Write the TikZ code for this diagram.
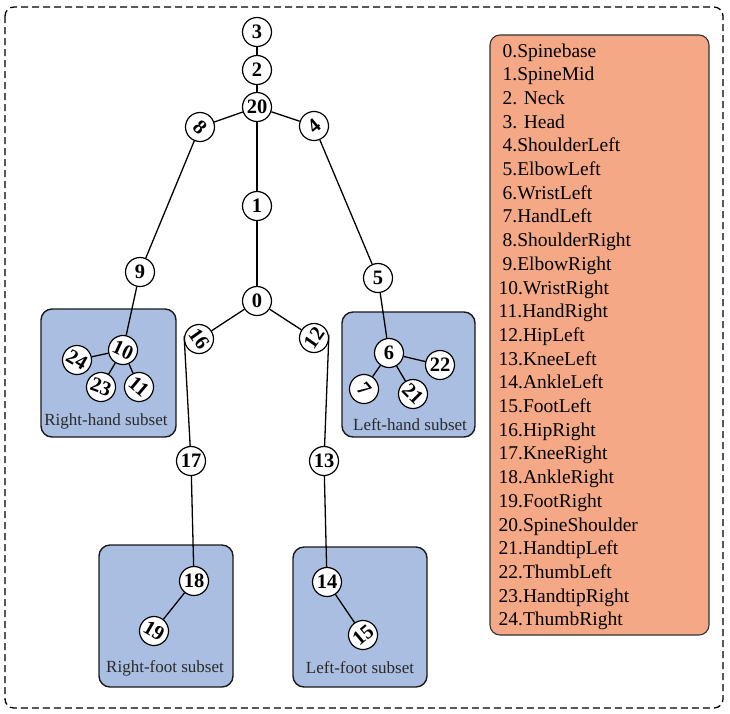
\documentclass[tikz,border=0pt]{standalone}
\usepackage{fontspec}
\setmainfont{Liberation Serif}
\definecolor{boxblue}{HTML}{A9BEE0}
\definecolor{legfill}{HTML}{F4A885}
\definecolor{labgray}{HTML}{2A2A2A}
\tikzset{
  jn/.style={circle, draw=black, fill=white, minimum size=29pt, inner sep=0pt, line width=1.2pt,
    font=\bfseries\fontsize{20.5}{20.5}\selectfont},
  bone/.style={draw=black, line width=1.3pt},
  subsetbox/.style={draw=black!90, fill=boxblue, rounded corners=11pt, line width=1.4pt},
  sublabel/.style={text=labgray, font=\fontsize{17}{17}\selectfont, inner sep=0pt},
  legline/.style={anchor=base west, inner sep=0pt, font=\fontsize{19.5}{20}\selectfont},
}
\begin{document}
\begin{tikzpicture}[x=1pt,y=-1pt]
\useasboundingbox (0,0) rectangle (730,713);
% outer dashed frame
\draw[line width=1.3pt, dash pattern=on 7pt off 4pt, rounded corners=9pt] (5,7) rectangle (723,708);
% subset boxes
\draw[subsetbox] (41,309) rectangle (176,437);
\draw[subsetbox] (342,312) rectangle (475,437);
\draw[subsetbox] (99,545) rectangle (233,687);
\draw[subsetbox] (293,547) rectangle (427,687);
\node[sublabel] (lrh) at (106,421) {Right-hand subset};
\node[sublabel] (llh) at (410,425) {Left-hand subset};
\node[sublabel] (lrf) at (165,668) {Right-foot subset};
\node[sublabel] (llf) at (360,668) {Left-foot subset};
% legend
\draw[draw=black!80, fill=legfill, rounded corners=10pt, line width=1.1pt] (490,35) rectangle (709,635);
\foreach \t [count=\i from 0] in {0.Spinebase,1.SpineMid,2. Neck,3. Head,4.ShoulderLeft,5.ElbowLeft,6.WristLeft,7.HandLeft,8.ShoulderRight,9.ElbowRight}
  \node[legline] (leg\i) at (502.5,{57+23.7*\i}) {\t};
\foreach \t [count=\i from 10] in {10.WristRight,11.HandRight,12.HipLeft,13.KneeLeft,14.AnkleLeft,15.FootLeft,16.HipRight,17.KneeRight,18.AnkleRight,19.FootRight,20.SpineShoulder,21.HandtipLeft,22.ThumbLeft,23.HandtipRight,24.ThumbRight}
  \node[legline] (leg\i) at (498.5,{57+23.7*\i}) {\t};
% joints
\node[jn] (n3) at (257,32) {3};
\node[jn] (n2) at (257,70) {2};
\node[jn] (n20) at (257,107) {20};
\node[jn, rotate=-45] (n8) at (200,127) {8};
\node[jn, rotate=40] (n4) at (314,126) {4};
\node[jn] (n1) at (257,206) {1};
\node[jn] (n9) at (140,272) {9};
\node[jn] (n5) at (378,278) {5};
\node[jn] (n0) at (257,301) {0};
\node[jn, rotate=-55] (n16) at (199,339) {16};
\node[jn, rotate=55] (n12) at (314,338) {12};
\node[jn, rotate=-25] (n10) at (123,350) {10};
\node[jn, rotate=-30] (n24) at (77,360) {24};
\node[jn, rotate=-20] (n23) at (101,387) {23};
\node[jn, rotate=-40] (n11) at (139,387) {11};
\node[jn] (n6) at (389,353) {6};
\node[jn] (n22) at (440,365) {22};
\node[jn, rotate=-50] (n7) at (364,389) {7};
\node[jn, rotate=-45] (n21) at (413,394) {21};
\node[jn] (n17) at (191,461) {17};
\node[jn] (n13) at (324,461) {13};
\node[jn] (n18) at (194,581) {18};
\node[jn, rotate=-30] (n19) at (154,631) {19};
\node[jn] (n14) at (327,582) {14};
\node[jn, rotate=40] (n15) at (363,635) {15};
% bones
\foreach \a/\b in {3/2,2/20,20/8,20/4,20/1,1/0,8/9,9/10,4/5,5/6,0/16,0/12,17/18,13/14,10/24,10/23,10/11,6/7,6/21,6/22,18/19,14/15}
  \draw[bone] (n\a) -- (n\b);
\draw[bone] (n16.south west) -- (n17);
\draw[bone] (n12.south east) -- (n13);
\end{tikzpicture}
\end{document}
